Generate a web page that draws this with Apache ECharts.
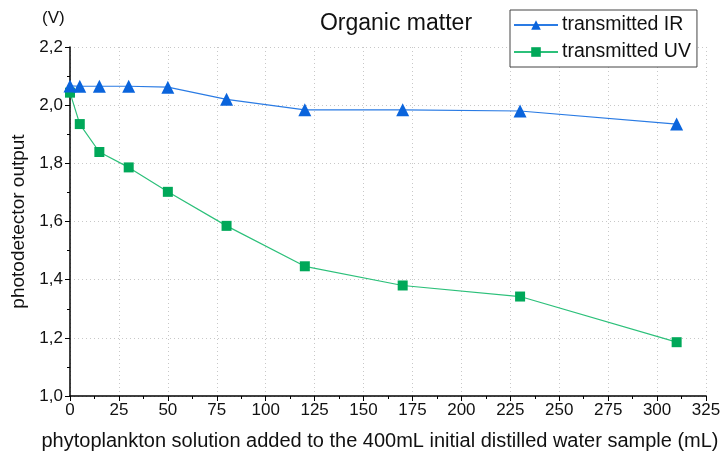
<!DOCTYPE html>
<html>
<head>
<meta charset="utf-8">
<script src="https://cdn.jsdelivr.net/npm/echarts@6/dist/echarts.min.js"></script>
<style>
  html, body { margin: 0; padding: 0; background: #fff; }
  #chart { width: 724px; height: 459px; }
</style>
</head>
<body>
<div id="chart"></div>
<script>
// Volume of phytoplankton solution added (mL)
const volumes = [0, 5, 15, 30, 50, 80, 120, 170, 230, 310];
// Photodetector output (V)
const irValues = [2.066, 2.065, 2.065, 2.065, 2.062, 2.020, 1.984, 1.984, 1.980, 1.935];
const uvValues = [2.043, 1.935, 1.839, 1.786, 1.702, 1.585, 1.446, 1.380, 1.342, 1.185];
const seriesNames = ['transmitted IR', 'transmitted UV'];

const FONT = 'Liberation Sans, Arial, sans-serif';
const commaFmt = v => v.toFixed(1).replace('.', ',');

const chart = echarts.init(document.getElementById('chart'));
chart.setOption({
  animation: false,
  backgroundColor: '#fff',
  textStyle: { fontFamily: FONT },
  title: {
    text: 'Organic matter',
    left: 391, top: 7, textAlign: 'center',
    textStyle: { fontFamily: FONT, fontSize: 23, fontWeight: 'normal', color: '#111' }
  },
  legend: {
    left: 510, top: 10,
    orient: 'vertical',
    itemGap: 7,
    itemWidth: 44, itemHeight: 12,
    padding: [5, 6, 5, 3],
    borderColor: '#444', borderWidth: 1,
    backgroundColor: '#fff',
    textStyle: { fontFamily: FONT, fontSize: 19.5, color: '#111', padding: [0, 0, 0, -1] },
    data: seriesNames
  },
  grid: { left: 70, right: 18, top: 47, bottom: 63, containLabel: false, outerBoundsMode: 'none' },
  xAxis: {
    type: 'value', min: 0, max: 325, interval: 25,
    name: 'phytoplankton solution added to the 400mL initial distilled water sample (mL)',
    nameLocation: 'middle', nameGap: 35,
    nameTextStyle: { fontFamily: FONT, fontSize: 20, color: '#111', padding: [0, 16, 0, 0] },
    axisLine: { show: true, lineStyle: { color: '#000', width: 1.5 } },
    axisTick: { show: true, inside: false, length: 5, lineStyle: { color: '#000' } },
    minorTick: { show: true, splitNumber: 2, length: 3, lineStyle: { color: '#000' } },
    axisLabel: { fontFamily: FONT, fontSize: 17, color: '#111', margin: 6 },
    splitLine: { show: true, lineStyle: { color: '#c8c8c8', type: [1, 3], width: 1 } }
  },
  yAxis: {
    type: 'value', min: 1.0, max: 2.2, interval: 0.2,
    name: 'photodetector output',
    nameLocation: 'middle', nameGap: 38, nameRotate: 90,
    nameTextStyle: { fontFamily: FONT, fontSize: 19, color: '#111' },
    axisLine: { show: true, lineStyle: { color: '#000', width: 1.5 } },
    axisTick: { show: true, inside: false, length: 5, lineStyle: { color: '#000' } },
    minorTick: { show: true, splitNumber: 2, length: 3, lineStyle: { color: '#000' } },
    axisLabel: { fontFamily: FONT, fontSize: 17, color: '#111', margin: 7, formatter: commaFmt },
    splitLine: { show: true, lineStyle: { color: '#c8c8c8', type: [1, 3], width: 1 } }
  },
  graphic: [{
    type: 'text', left: 42, top: 10,
    style: { text: '(V)', font: '17px ' + FONT, fill: '#111' }
  }],
  series: [
    {
      name: seriesNames[0], type: 'line',
      data: volumes.map((v, i) => [v, irValues[i]]),
      symbol: 'triangle', symbolSize: 13,
      itemStyle: { color: '#0a64dc' },
      lineStyle: { color: '#2a7be4', width: 1.2 },
      z: 3
    },
    {
      name: seriesNames[1], type: 'line',
      data: volumes.map((v, i) => [v, uvValues[i]]),
      symbol: 'rect', symbolSize: 10,
      itemStyle: { color: '#00a859' },
      lineStyle: { color: '#2cc07a', width: 1.2 },
      z: 2
    }
  ]
});
</script>
</body>
</html>
